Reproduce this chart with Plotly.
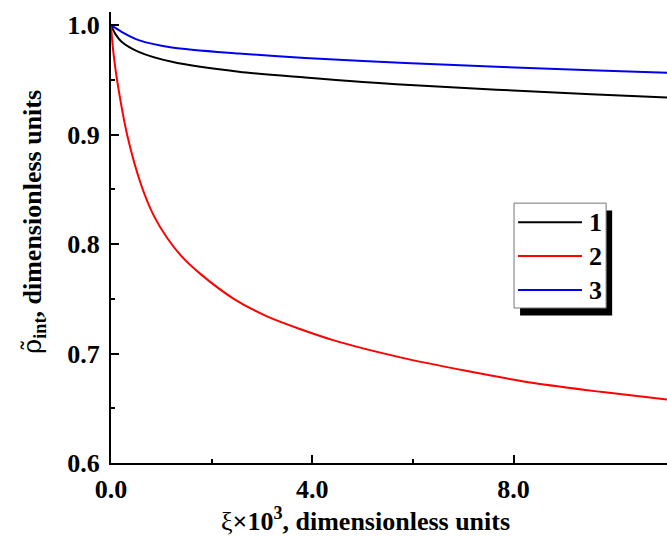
import plotly.graph_objects as go

# Curve 1 (black)
xi_1 = [0, 0.085, 0.21, 0.55, 1.21, 2.54, 3.86, 5.85, 9.54, 11.05]
rho_1 = [1.0, 0.992, 0.9848, 0.9756, 0.9665, 0.9574, 0.9522, 0.9455, 0.9369, 0.9338]

# Curve 2 (red)
xi_2 = [0, 0.02, 0.05, 0.12, 0.33, 0.60, 0.85, 1.11, 1.40, 1.77, 2.44, 3.10, 4.43, 5.75, 7.08, 8.40, 9.73, 11.05]
rho_2 = [1.0, 0.988, 0.974, 0.950, 0.898, 0.854, 0.826, 0.806, 0.789, 0.773, 0.750, 0.734, 0.712, 0.6965, 0.684, 0.673, 0.665, 0.658]

# Curve 3 (blue)
xi_3 = [0, 0.21, 0.55, 1.21, 2.54, 3.86, 5.85, 9.54, 11.05]
rho_3 = [1.0, 0.9939, 0.9863, 0.9796, 0.9741, 0.9700, 0.9653, 0.9588, 0.9566]

labels = ["1", "2", "3"]
colors = ["#000000", "#ff0000", "#0000ee"]
series = [(xi_1, rho_1), (xi_2, rho_2), (xi_3, rho_3)]

x_ticks = [0, 4, 8]
x_tick_text = ["0.0", "4.0", "8.0"]
y_ticks = [0.6, 0.7, 0.8, 0.9, 1.0]
y_tick_text = ["0.6", "0.7", "0.8", "0.9", "1.0"]

FONT = "Liberation Serif"

fig = go.Figure()
for (xs, ys), c, name in zip(series, colors, labels):
    fig.add_trace(go.Scatter(x=xs, y=ys, mode="lines", name=name,
                             line=dict(color=c, width=2, shape="spline", smoothing=0.8),
                             showlegend=False))

X_MAX = 11.05
Y_MIN, Y_MAX = 0.6, 1.012

fig.update_layout(
    width=667, height=537,
    margin=dict(l=111, r=0, t=12, b=74),
    plot_bgcolor="white", paper_bgcolor="white",
    font=dict(family=FONT, size=26, color="black", weight="bold"),
    xaxis=dict(range=[0, X_MAX], showgrid=False, zeroline=False,
               showline=True, linecolor="black", linewidth=2,
               ticks="inside", ticklen=8, tickwidth=2, tickcolor="black",
               tickvals=x_ticks, ticktext=x_tick_text, ticklabelstandoff=2,
               minor=dict(tickvals=[2, 6], ticks="inside", ticklen=4, tickwidth=2, tickcolor="black")),
    yaxis=dict(range=[Y_MIN, Y_MAX], showgrid=False, zeroline=False,
               showline=True, linecolor="black", linewidth=2,
               ticks="inside", ticklen=8, tickwidth=2, tickcolor="black",
               tickvals=y_ticks, ticktext=y_tick_text, ticklabelstandoff=4,
               minor=dict(tickvals=[0.65, 0.75, 0.85, 0.95], ticks="inside", ticklen=4,
                          tickwidth=2, tickcolor="black")),
)

# Axis titles
fig.add_annotation(xref="paper", yref="paper", x=(365 - 111) / 556, y=-(519 - 463) / 451,
                   text="<span style=\"font-weight:normal\">ξ</span>×10<sup>3</sup>, dimensionless units",
                   showarrow=False, xanchor="center", yanchor="middle",
                   font=dict(family=FONT, size=26, weight="bold"))
fig.add_annotation(xref="paper", yref="paper", x=-(111 - 34) / 556, y=(463 - 222) / 451,
                   text="<span style=\"font-weight:normal;font-family:'DejaVu Serif'\">ρ̃</span>"
                        "<sub>int</sub>, dimensionless units",
                   textangle=-90, showarrow=False, xanchor="center", yanchor="middle",
                   font=dict(family=FONT, size=26, weight="bold"))

# Legend box with drop shadow
box = dict(x0=8.01, x1=9.84, y0=0.7416, y1=0.8374)
shadow_dx, shadow_dy = 0.12, -0.0068
fig.add_shape(type="rect", xref="x", yref="y",
              x0=box["x0"] + shadow_dx, x1=box["x1"] + shadow_dx,
              y0=box["y0"] + shadow_dy, y1=box["y1"] + shadow_dy,
              fillcolor="black", line=dict(width=0), layer="above")
fig.add_shape(type="rect", xref="x", yref="y", **box,
              fillcolor="white", line=dict(color="#777777", width=1), layer="above")
row_y = [0.820, 0.789, 0.758]
for ry, c, name in zip(row_y, colors, labels):
    fig.add_shape(type="line", xref="x", yref="y", x0=8.09, x1=9.36, y0=ry, y1=ry,
                  line=dict(color=c, width=2), layer="above")
    fig.add_annotation(xref="x", yref="y", x=9.62, y=ry, text=name, showarrow=False,
                       xanchor="center", yanchor="middle",
                       font=dict(family=FONT, size=26, weight="bold"))

fig.write_html("out.html")
